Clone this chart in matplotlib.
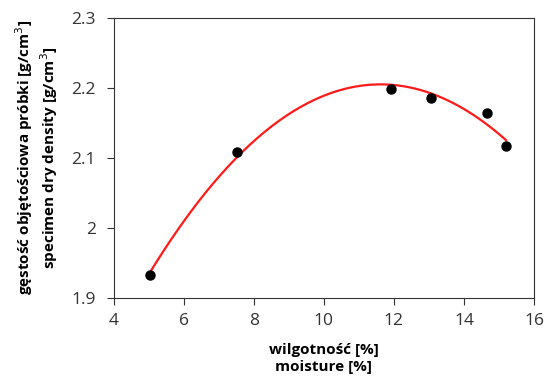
import numpy as np
import matplotlib.pyplot as plt

plt.rcParams["font.family"] = ["Open Sans", "DejaVu Sans"]

# measured points
moisture = [5.04, 7.53, 11.92, 13.06, 14.65, 15.2]
density = [1.933, 2.109, 2.199, 2.186, 2.164, 2.117]

x_ticks = [4, 6, 8, 10, 12, 14, 16]
y_ticks = [1.9, 2.0, 2.1, 2.2, 2.3]
y_tick_labels = ["1.9", "2", "2.1", "2.2", "2.3"]

# second order trend line
coef = np.polyfit(moisture, density, 2)
xs = np.linspace(min(moisture), max(moisture), 200)
ys = np.polyval(coef, xs)

fig = plt.figure(figsize=(5.47, 3.83), dpi=100)
ax = fig.add_axes([113.7 / 547, 1 - 297.7 / 383, (534 - 113.7) / 547, (297.7 - 18) / 383])

ax.plot(xs, ys, color="#ff1a1a", linewidth=1.6, zorder=2)
ax.plot(moisture, density, "o", color="black", markersize=6.5, zorder=3)

ax.set_xlim(4, 16)
ax.set_ylim(1.9, 2.3)
ax.set_xticks(x_ticks)
ax.set_yticks(y_ticks)
ax.set_yticklabels(y_tick_labels)
ax.tick_params(direction="out", length=5, width=0.8, labelsize=12.5, colors="#333333",
               top=False, right=False)
ax.tick_params(axis="x", pad=6)
ax.tick_params(axis="y", pad=8)
for s in ax.spines.values():
    s.set_linewidth(0.8)
    s.set_color("#333333")

ax.set_xlabel("wilgotność [%]\nmoisture [%]", fontsize=11, fontweight="bold",
              linespacing=1.3, labelpad=10)
ax.set_ylabel("gęstość objętościowa próbki [g/cm$^3$]\nspecimen dry density [g/cm$^3$]",
              fontsize=11, fontweight="bold", linespacing=1.2, labelpad=8)

fig.savefig("out.png", dpi=100)
